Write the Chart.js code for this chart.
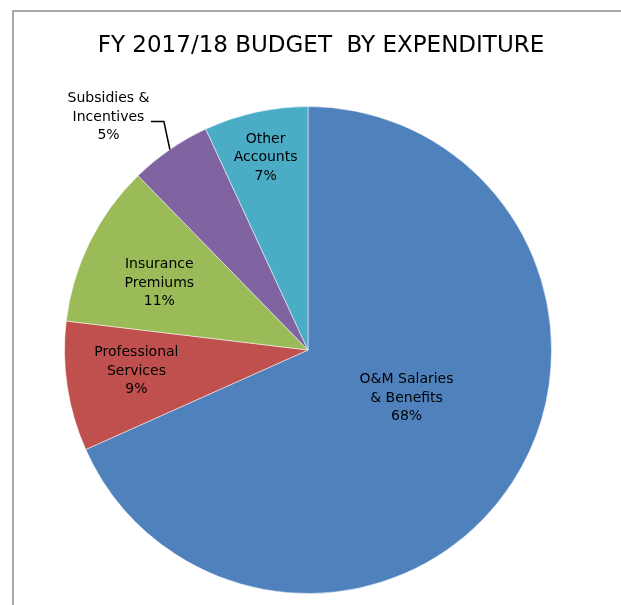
<!DOCTYPE html>
<html>
<head>
<meta charset="utf-8">
<script src="https://cdn.jsdelivr.net/npm/chart.js@4.4.1/dist/chart.umd.min.js"></script>
<style>
    html, body { margin: 0; padding: 0; background: #ffffff; }
    #wrap { width: 621px; height: 605px; position: relative; }
</style>
</head>
<body>
<div id="wrap"><canvas id="budgetChart"></canvas></div>
<script>
const chartTitle = "FY 2017/18 BUDGET  BY EXPENDITURE";
const categories = ["O&M Salaries & Benefits", "Professional Services", "Insurance Premiums", "Subsidies & Incentives", "Other Accounts"];
const labelLines = [["O&M Salaries", "& Benefits"], ["Professional", "Services"], ["Insurance", "Premiums"], ["Subsidies &", "Incentives"], ["Other", "Accounts"]];
const shares = [68.3, 8.6, 10.8, 5.4, 6.9];
const sliceColors = ["#4f81bd", "#c0504d", "#9bbb59", "#8064a2", "#4bacc6"];

// where each label sits: fraction of radius, and turn (deg) away from the slice middle
const labelRadius = [0.45, 0.71, 0.67, 1.26, 0.81];
const labelTurn = [-7, 1.6, -2, -6, 0];
const FONT = "'DejaVu Sans', sans-serif";

const framePlugin = {
    id: "frame",
    beforeDraw(chart) {
        const ctx = chart.ctx;
        ctx.save();
        ctx.fillStyle = "#ffffff";
        ctx.fillRect(0, 0, chart.width, chart.height);
        ctx.strokeStyle = "#8c8c8c";
        ctx.lineWidth = 1.5;
        ctx.beginPath();
        ctx.moveTo(13, chart.height);
        ctx.lineTo(13, 11);
        ctx.lineTo(chart.width, 11);
        ctx.stroke();

        ctx.fillStyle = "#000000";
        ctx.font = "23px " + FONT;
        ctx.textAlign = "center";
        ctx.textBaseline = "middle";
        ctx.fillText(chartTitle, 321, 46);
        ctx.restore();
    }
};

const sliceLabelPlugin = {
    id: "sliceLabels",
    afterDatasetsDraw(chart) {
        const ctx = chart.ctx;
        const meta = chart.getDatasetMeta(0);
        ctx.save();
        ctx.fillStyle = "#000000";
        ctx.font = "14px " + FONT;
        ctx.textAlign = "center";
        ctx.textBaseline = "middle";
        meta.data.forEach((arc, i) => {
            const p = arc.getProps(["x", "y", "startAngle", "endAngle", "outerRadius"], true);
            const mid = (p.startAngle + p.endAngle) / 2;
            const ang = mid + labelTurn[i] * Math.PI / 180;
            const r = p.outerRadius * labelRadius[i];
            const lx = p.x + Math.cos(ang) * r;
            const ly = p.y + Math.sin(ang) * r;
            const lines = labelLines[i].concat([Math.round(shares[i]) + "%"]);
            const lh = 18.5;
            lines.forEach((line, k) => {
                ctx.fillText(line, lx, ly + (k - 1) * lh);
            });

            if (labelRadius[i] > 1) {
                // leader line from the slice edge to the outside label
                const ex = p.x + Math.cos(mid) * p.outerRadius;
                const ey = p.y + Math.sin(mid) * p.outerRadius;
                ctx.strokeStyle = "#000000";
                ctx.lineWidth = 1.5;
                ctx.beginPath();
                ctx.moveTo(ex, ey);
                ctx.lineTo(ex - 6, ey - 28);
                ctx.lineTo(ex - 19, ey - 28);
                ctx.stroke();
            }
        });
        ctx.restore();
    }
};

new Chart(document.getElementById("budgetChart"), {
    type: "pie",
    data: {
        labels: categories,
        datasets: [{
            data: shares,
            backgroundColor: sliceColors,
            borderColor: "rgba(255,255,255,0.5)",
            borderWidth: 1
        }]
    },
    options: {
        responsive: true,
        maintainAspectRatio: false,
        animation: false,
        layout: {
            padding: { left: 64, right: 69, top: 106, bottom: 11 }
        },
        plugins: {
            legend: { display: false },
            title: { display: false },
            tooltip: { enabled: false }
        }
    },
    plugins: [framePlugin, sliceLabelPlugin]
});
</script>
</body>
</html>
